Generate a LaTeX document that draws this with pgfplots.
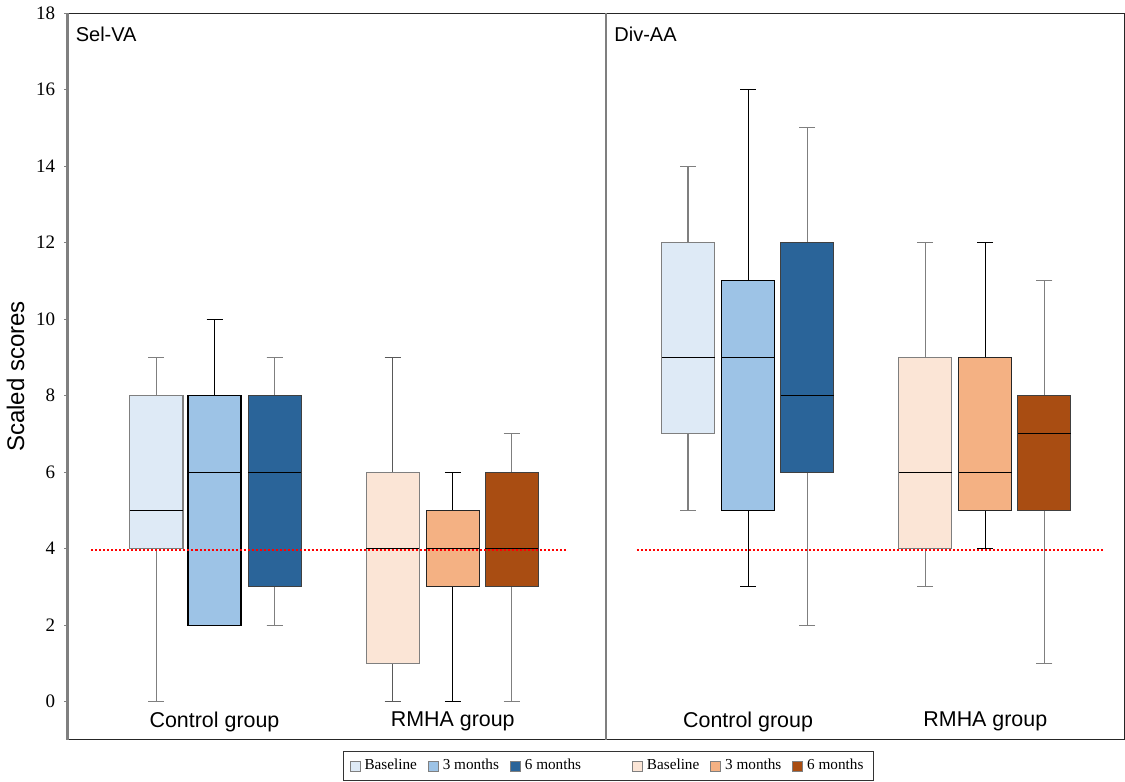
\documentclass[border=0pt]{standalone}
\usepackage{pgfplots}
\pgfplotsset{compat=1.18}
\usepgfplotslibrary{statistics}
\usepackage{fontspec}
\setmainfont{Liberation Serif}
\newfontfamily\arial{Liberation Sans}
\definecolor{lb1}{HTML}{DEEAF6}
\definecolor{lb2}{HTML}{9DC3E6}
\definecolor{lb3}{HTML}{2A6499}
\definecolor{lo1}{HTML}{FBE5D6}
\definecolor{lo2}{HTML}{F4B183}
\definecolor{lo3}{HTML}{A94D12}
\definecolor{wgray}{HTML}{7F7F7F}
\pgfplotsset{
  bx/.style={boxplot/draw direction=y, boxplot/box extend=0.53, boxplot/whisker extend=0.16, line width=0.55pt},
  legsq/.style={legend image code/.code={\draw[##1] (0pt,-2.5pt) rectangle (5pt,2.5pt);}},
}
\begin{document}
\begin{tikzpicture}
\begin{axis}[
  scale only axis,
  width=528pt, height=363pt,
  xmin=0, xmax=10.56, ymin=-1, ymax=18,
  xtick=\empty,
  ytick={0,2,...,18},
  ytick pos=left,
  tick align=outside,
  major tick length=1.6pt,
  ytick style={gray, line width=0.4pt},
  tick label style={font=\fontsize{9.5}{11}\selectfont},
  /pgf/number format/assume math mode=true,
  yticklabel style={xshift=-1pt},
  ylabel={Scaled scores},
  ylabel style={font=\arial\fontsize{12}{14}\selectfont, yshift=-1pt},
  axis line style={line width=0.5pt, black!85},
  clip=false,
  legend columns=6,
  legend style={at={(0.512,0)}, anchor=north, yshift=-5.5pt,
    font=\fontsize{7.6}{9}\selectfont, draw=black!80, line width=0.4pt,
    inner xsep=3pt, inner ysep=2pt,
    /tikz/every even column/.style={column sep=3.5pt}},
  legend cell align=left,
]
% divider
\addplot[wgray, line width=0.8pt, forget plot] coordinates {(5.38,-1) (5.38,18)};

% ---- Sel-VA control
\addplot[bx, forget plot, draw=wgray, fill=lb1, boxplot/every whisker/.style={draw=wgray}, boxplot/every median/.style={draw=black},
  boxplot prepared={draw position=0.89, lower whisker=0, lower quartile=4, median=5, upper quartile=8, upper whisker=9}] coordinates {};
\addplot[bx, forget plot, draw=black, fill=lb2, boxplot/every whisker/.style={draw=black}, boxplot/every median/.style={draw=black},
  boxplot prepared={draw position=1.47, lower whisker=2, lower quartile=2, median=6, upper quartile=8, upper whisker=10}] coordinates {};
\addplot[bx, forget plot, draw=black!75, fill=lb3, boxplot/every whisker/.style={draw=wgray}, boxplot/every median/.style={draw=black},
  boxplot prepared={draw position=2.07, lower whisker=2, lower quartile=3, median=6, upper quartile=8, upper whisker=9}] coordinates {};
% ---- Sel-VA RMHA
\addplot[bx, forget plot, draw=wgray, fill=lo1, boxplot/every whisker/.style={draw=black!65}, boxplot/every median/.style={draw=black},
  boxplot prepared={draw position=3.25, lower whisker=0, lower quartile=1, median=4, upper quartile=6, upper whisker=9}] coordinates {};
\addplot[bx, forget plot, draw=black!85, fill=lo2, boxplot/every whisker/.style={draw=black}, boxplot/every median/.style={draw=black},
  boxplot prepared={draw position=3.85, lower whisker=0, lower quartile=3, median=4, upper quartile=5, upper whisker=6}] coordinates {};
\addplot[bx, forget plot, draw=black!75, fill=lo3, boxplot/every whisker/.style={draw=wgray}, boxplot/every median/.style={draw=black},
  boxplot prepared={draw position=4.44, lower whisker=0, lower quartile=3, median=4, upper quartile=6, upper whisker=7}] coordinates {};
% ---- Div-AA control
\addplot[bx, forget plot, draw=wgray, fill=lb1, boxplot/every whisker/.style={draw=wgray}, boxplot/every median/.style={draw=black},
  boxplot prepared={draw position=6.20, lower whisker=5, lower quartile=7, median=9, upper quartile=12, upper whisker=14}] coordinates {};
\addplot[bx, forget plot, draw=black, fill=lb2, boxplot/every whisker/.style={draw=black}, boxplot/every median/.style={draw=black},
  boxplot prepared={draw position=6.80, lower whisker=3, lower quartile=5, median=9, upper quartile=11, upper whisker=16}] coordinates {};
\addplot[bx, forget plot, draw=black!75, fill=lb3, boxplot/every whisker/.style={draw=wgray}, boxplot/every median/.style={draw=black},
  boxplot prepared={draw position=7.39, lower whisker=2, lower quartile=6, median=8, upper quartile=12, upper whisker=15}] coordinates {};
% ---- Div-AA RMHA
\addplot[bx, forget plot, draw=wgray, fill=lo1, boxplot/every whisker/.style={draw=wgray}, boxplot/every median/.style={draw=black},
  boxplot prepared={draw position=8.57, lower whisker=3, lower quartile=4, median=6, upper quartile=9, upper whisker=12}] coordinates {};
\addplot[bx, forget plot, draw=black!85, fill=lo2, boxplot/every whisker/.style={draw=black}, boxplot/every median/.style={draw=black},
  boxplot prepared={draw position=9.17, lower whisker=4, lower quartile=5, median=6, upper quartile=9, upper whisker=12}] coordinates {};
\addplot[bx, forget plot, draw=black!75, fill=lo3, boxplot/every whisker/.style={draw=wgray}, boxplot/every median/.style={draw=black},
  boxplot prepared={draw position=9.76, lower whisker=1, lower quartile=5, median=7, upper quartile=8, upper whisker=11}] coordinates {};

% reference lines (drawn on top of boxes)
\addplot[red, densely dotted, line width=1pt, forget plot] coordinates {(0.24,3.96) (5.00,3.96)};
\addplot[red, densely dotted, line width=1pt, forget plot] coordinates {(5.69,3.96) (10.35,3.96)};

% legend
\addlegendimage{legsq, draw=wgray, fill=lb1}\addlegendentry{Baseline}
\addlegendimage{legsq, draw=wgray, fill=lb2}\addlegendentry{3 months}
\addlegendimage{legsq, draw=wgray, fill=lb3}\addlegendentry{6 months\rule{20pt}{0pt}}
\addlegendimage{legsq, draw=wgray, fill=lo1}\addlegendentry{Baseline}
\addlegendimage{legsq, draw=wgray, fill=lo2}\addlegendentry{3 months}
\addlegendimage{legsq, draw=wgray, fill=lo3}\addlegendentry{6 months}

% labels
\node[anchor=north west, font=\arial\fontsize{10}{12}\selectfont, inner sep=0pt] at (axis cs:0.08,17.65) {Sel-VA};
\node[anchor=north west, font=\arial\fontsize{10}{12}\selectfont, inner sep=0pt] at (axis cs:5.46,17.65) {Div-AA};
\node[font=\arial\fontsize{10.7}{12}\selectfont] at (axis cs:1.47,-0.52) {Control group};
\node[font=\arial\fontsize{10.7}{12}\selectfont] at (axis cs:3.85,-0.52) {RMHA group};
\node[font=\arial\fontsize{10.7}{12}\selectfont] at (axis cs:6.80,-0.52) {Control group};
\node[font=\arial\fontsize{10.7}{12}\selectfont] at (axis cs:9.17,-0.52) {RMHA group};
\draw[gray, line width=1.2pt] (rel axis cs:0,0) -- (rel axis cs:0,1);
\end{axis}
\end{tikzpicture}
\end{document}
